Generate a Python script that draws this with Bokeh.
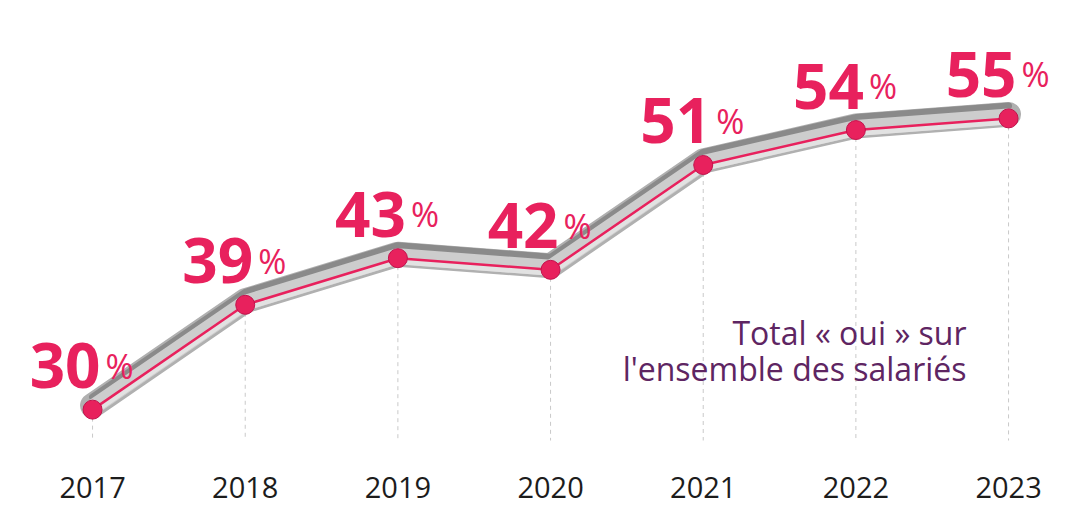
from bokeh.plotting import figure
from bokeh.models import Range1d, ColumnDataSource, Label
from bokeh.core.properties import value
from bokeh.embed import file_html
from bokeh.resources import INLINE

years = [2017, 2018, 2019, 2020, 2021, 2022, 2023]
year_labels = ["2017", "2018", "2019", "2020", "2021", "2022", "2023"]
values = [30, 39, 43, 42, 51, 54, 55]
value_labels = ["30", "39", "43", "42", "51", "54", "55"]
note_lines = ["Total « oui » sur", "l'ensemble des salariés"]

PINK = "#E8215D"
PURPLE = "#5E2562"

W, H = 1065, 505
y0, y1 = 21.77, 65.12
px = (y1 - y0) / H  # data units per pixel

p = figure(width=W, height=H, output_backend="svg", toolbar_location=None,
           x_range=Range1d(2016.397, 2023.373), y_range=Range1d(y0, y1),
           x_axis_location=None, y_axis_location=None, min_border=0,
           outline_line_color=None, background_fill_color="white",
           border_fill_color="white")
p.grid.visible = False

src = ColumnDataSource(dict(x=years, y=values, lab=value_labels, yl=year_labels,
                            base=[y0 + 65 * px] * len(years),
                            ylab=[y0 + 18 * px] * len(years)))

# dashed drop lines
p.segment(x0="x", y0="y", x1="x", y1="base", source=src, line_color="#c9c9c9",
          line_width=1, line_dash="4 4")

# grey tube
def shifted(d):
    return [v + d * px for v in values]

p.line(years, shifted(4), line_width=25, line_color="#b0b0b0", line_join="round", line_cap="round")
p.line(years, shifted(12.5), line_width=7, line_color="#8a8a8a", line_join="round", line_cap="round")
p.line(years, shifted(2), line_width=16, line_color="#cdcdcd", line_join="round", line_cap="round")
p.line(years, shifted(-3), line_width=6, line_color="#e2e2e2", line_join="round", line_cap="round")

# pink line and dots
p.line("x", "y", source=src, line_width=2.5, line_color=PINK)
p.scatter("x", "y", source=src, size=19, fill_color=PINK, line_color="#c2124c", line_width=1)

# value labels
p.text("x", "y", text="lab", source=src, text_font=value("Open Sans"), text_font_style="bold",
       text_font_size="62px", text_color=PINK, text_align="right", text_baseline="alphabetic",
       x_offset=8, y_offset=-44)
p.text("x", "y", text=value("%"), source=src, text_font=value("Open Sans"),
       text_font_size="34px", text_color=PINK, text_align="left", text_baseline="alphabetic",
       x_offset=13, y_offset=-44)

# year labels
p.text("x", "ylab", text="yl", source=src, text_font=value("Open Sans"),
       text_font_size="29px", text_color="#1c1c1c", text_align="center", text_baseline="middle")

# note
for i, t in enumerate(note_lines):
    p.add_layout(Label(x=966, y=173 - 36 * i, x_units="screen", y_units="screen", text=t,
                       text_font="Open Sans", text_font_size="32px", text_color=PURPLE,
                       text_align="right", text_baseline="alphabetic"))

open("out.html", "w").write(file_html(p, INLINE))
